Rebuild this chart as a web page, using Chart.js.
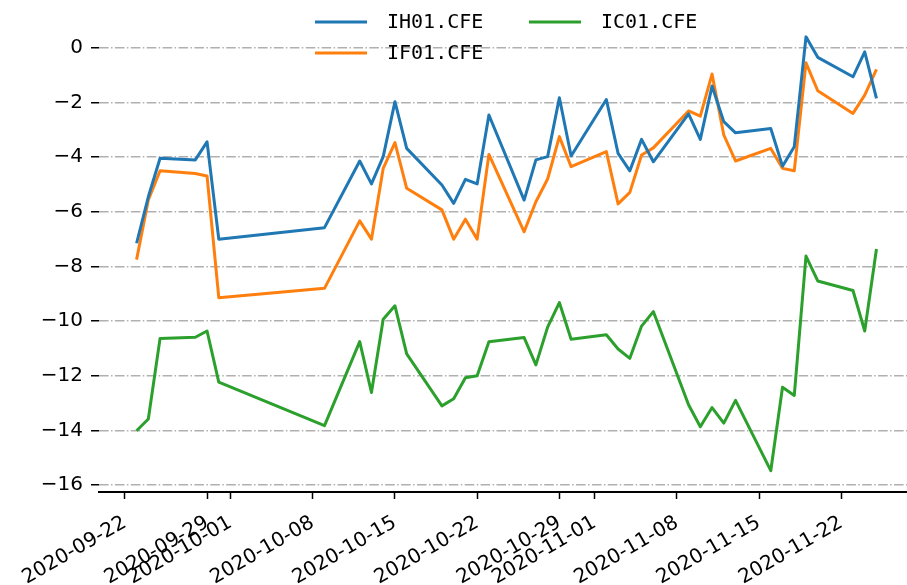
<!DOCTYPE HTML><html>
<head>
  <meta charset="utf-8">
  <script src="https://cdn.jsdelivr.net/npm/chart.js"></script>
  <style>
    html, body { margin: 0; padding: 0; background: #fff; overflow: hidden; }
    canvas { display: block; }
  </style>
</head>
<body>
  <canvas id="futuresChart" width="907" height="585"></canvas>
<script>
  // trading days
  const dates = ['2020-09-23','2020-09-24','2020-09-25','2020-09-28','2020-09-29','2020-09-30',
    '2020-10-09','2020-10-12','2020-10-13','2020-10-14','2020-10-15','2020-10-16',
    '2020-10-19','2020-10-20','2020-10-21','2020-10-22','2020-10-23',
    '2020-10-26','2020-10-27','2020-10-28','2020-10-29','2020-10-30',
    '2020-11-02','2020-11-03','2020-11-04','2020-11-05','2020-11-06',
    '2020-11-09','2020-11-10','2020-11-11','2020-11-12','2020-11-13',
    '2020-11-16','2020-11-17','2020-11-18','2020-11-19','2020-11-20',
    '2020-11-23','2020-11-24','2020-11-25'];
  const ih01 = [-7.15,-5.45,-4.04,-4.1,-3.44,-7.0,-6.58,-4.14,-4.98,-3.98,-1.97,-3.68,
    -5.02,-5.69,-4.81,-4.98,-2.46,-5.57,-4.1,-3.98,-1.83,-3.96,-1.89,-3.86,-4.5,-3.35,-4.17,
    -2.42,-3.35,-1.4,-2.7,-3.11,-2.95,-4.33,-3.62,0.4,-0.35,-1.06,-0.15,-1.85];
  const if01 = [-7.75,-5.57,-4.5,-4.6,-4.69,-9.14,-8.8,-6.33,-7.0,-4.41,-3.47,-5.14,
    -5.93,-7.0,-6.27,-7.0,-3.9,-6.73,-5.63,-4.8,-3.25,-4.35,-3.8,-5.71,-5.29,-3.92,-3.66,
    -2.31,-2.5,-0.96,-3.19,-4.14,-3.68,-4.41,-4.5,-0.55,-1.57,-2.4,-1.73,-0.79];
  const ic01 = [-14.01,-13.58,-10.63,-10.59,-10.36,-12.23,-13.82,-10.75,-12.61,-9.93,-9.44,-11.2,
    -13.1,-12.84,-12.07,-12.0,-10.75,-10.6,-11.6,-10.22,-9.32,-10.66,-10.5,-11.02,-11.36,-10.18,-9.65,
    -13.06,-13.86,-13.16,-13.73,-12.9,-15.47,-12.42,-12.72,-7.62,-8.53,-8.88,-10.36,-7.36];

  const xTickLabels = ['2020-09-22','2020-09-29','2020-10-01','2020-10-08','2020-10-15','2020-10-22',
    '2020-10-29','2020-11-01','2020-11-08','2020-11-15','2020-11-22'];
  const yTickValues = [0,-2,-4,-6,-8,-10,-12,-14,-16];

  const seriesNames = ['IH01.CFE','IF01.CFE','IC01.CFE'];
  const colors = ['#1f77b4','#ff7f0e','#2ca02c'];

  // day numbers relative to 2020-09-22
  const base = Date.UTC(2020, 8, 22);
  function dayNum(s) {
    const p = s.split('-');
    return (Date.UTC(+p[0], +p[1] - 1, +p[2]) - base) / 86400000;
  }
  function dayLabel(d) {
    const t = new Date(base + d * 86400000);
    const mm = String(t.getUTCMonth() + 1).padStart(2, '0');
    const dd = String(t.getUTCDate()).padStart(2, '0');
    return t.getUTCFullYear() + '-' + mm + '-' + dd;
  }
  const xs = dates.map(dayNum);
  const toPoints = (vals) => vals.map((v, i) => ({x: xs[i], y: v}));

  const gridGray = '#b0b0b0';

  // legend as in the original: 2 columns, IH/IF in first, IC in second
  const legendPlugin = {
    id: 'mplLegend',
    afterDraw(chart) {
      const ctx = chart.ctx;
      const items = [
        {name: seriesNames[0], color: colors[0], x: 315, y: 22},
        {name: seriesNames[1], color: colors[1], x: 315, y: 53},
        {name: seriesNames[2], color: colors[2], x: 529, y: 22}
      ];
      ctx.save();
      ctx.font = '20px "DejaVu Sans Mono"';
      ctx.textBaseline = 'middle';
      ctx.textAlign = 'left';
      items.forEach(it => {
        ctx.strokeStyle = it.color;
        ctx.lineWidth = 3;
        ctx.beginPath();
        ctx.moveTo(it.x, it.y);
        ctx.lineTo(it.x + 52, it.y);
        ctx.stroke();
        ctx.fillStyle = '#000';
        ctx.fillText(it.name, it.x + 72, it.y + 1);
      });
      ctx.restore();
    }
  };

  const ctx = document.getElementById('futuresChart').getContext('2d');
  const futuresChart = new Chart(ctx, {
    type: 'line',
    data: {
      datasets: [ih01, if01, ic01].map((vals, i) => ({
        label: seriesNames[i],
        data: toPoints(vals),
        borderColor: colors[i],
        backgroundColor: colors[i],
        borderWidth: 3,
        pointRadius: 0,
        tension: 0,
        borderJoinStyle: 'round',
        fill: false
      }))
    },
    plugins: [legendPlugin],
    options: {
      responsive: false,
      animation: false,
      events: [],
      layout: { padding: { top: 15, right: 0, left: 0, bottom: 0 } },
      plugins: {
        legend: { display: false },
        tooltip: { enabled: false }
      },
      scales: {
        x: {
          type: 'linear',
          min: -2.2,
          max: 66.6,
          afterBuildTicks: (scale) => {
            scale.ticks = xTickLabels.map(s => ({value: dayNum(s)}));
          },
          afterFit: (scale) => {
            scale.height = 93;
            scale.paddingLeft = 0;
            scale.paddingRight = 0;
          },
          ticks: {
            autoSkip: false,
            minRotation: 30,
            maxRotation: 30,
            padding: 12,
            color: '#000',
            font: { family: 'DejaVu Sans', size: 20 },
            callback: (v) => dayLabel(v)
          },
          grid: {
            drawOnChartArea: false,
            drawTicks: true,
            tickLength: 7,
            tickColor: '#000',
            tickWidth: 1.5
          },
          border: { display: true, color: '#000', width: 2 }
        },
        y: {
          type: 'linear',
          min: -16.25,
          max: 1.2,
          afterBuildTicks: (scale) => {
            scale.ticks = yTickValues.map(v => ({value: v}));
          },
          afterFit: (scale) => {
            scale.width = 99;
            scale.paddingTop = 0;
            scale.paddingBottom = 0;
          },
          ticks: {
            padding: 8,
            color: '#000',
            font: { family: 'DejaVu Sans', size: 20 },
            callback: (v) => v < 0 ? '\u2212' + Math.abs(v) : String(v)
          },
          grid: {
            color: gridGray,
            lineWidth: 1.5,
            drawTicks: true,
            tickLength: 8,
            tickColor: '#000',
            tickWidth: 1.5,
            tickBorderDash: []
          },
          border: { display: false, dash: [9.6, 2.4, 1.5, 2.4] }
        }
      }
    }
  });
</script>
</body>
</html>
